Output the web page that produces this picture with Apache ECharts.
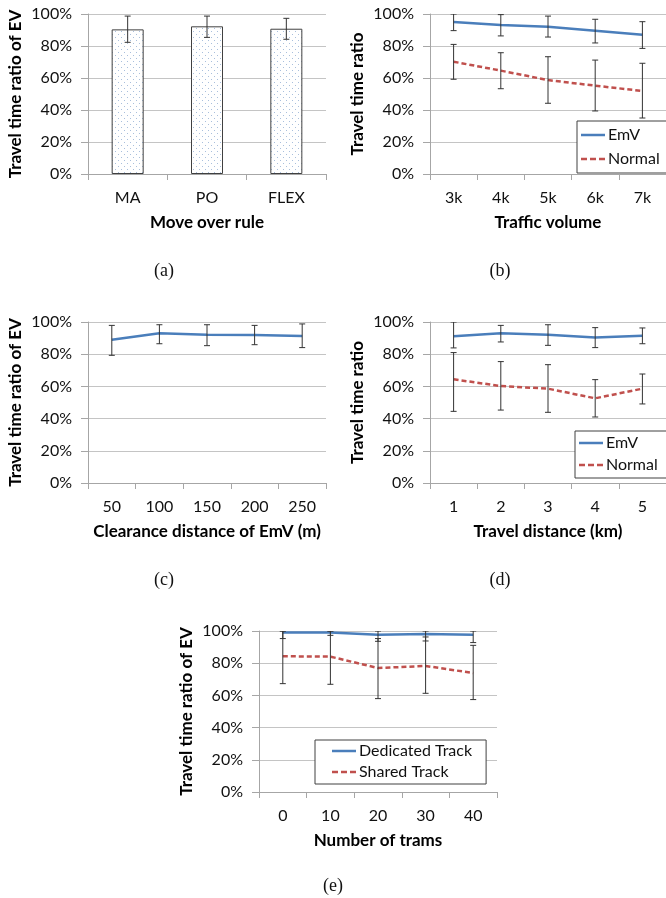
<!DOCTYPE html>
<html>
<head>
<meta charset="utf-8">
<script src="https://cdn.jsdelivr.net/npm/echarts@6/dist/echarts.min.js"></script>
<style>html,body{margin:0;padding:0;background:#fff}#c{width:666px;height:898px}</style>
</head>
<body>
<div id="c"></div>
<script>
// ---- Data (percent) ----
const catA = ['MA', 'PO', 'FLEX'];
const barA = [90.4, 92.3, 90.8];
const barALow = [82.3, 85.4, 84.2];
const barAHigh = [98.7, 98.7, 97.3];

const catB = ['3k', '4k', '5k', '6k', '7k'];
const emvB = [95.0, 93.1, 92.1, 89.6, 87.1];
const emvBLow = [89.6, 86.3, 85.6, 81.9, 78.5];
const emvBHigh = [100, 99.6, 98.7, 96.7, 95.2];
const normB = [70.2, 64.6, 58.7, 55.2, 51.9];
const normBLow = [59.2, 53.3, 44.2, 39.4, 35.0];
const normBHigh = [81.0, 75.8, 73.3, 71.2, 69.2];

const catC = ['50', '100', '150', '200', '250'];
const emvC = [89.0, 93.0, 92.1, 91.9, 91.3];
const emvCLow = [79.3, 86.5, 85.3, 85.9, 84.1];
const emvCHigh = [97.9, 98.3, 98.3, 97.9, 98.8];

const catD = ['1', '2', '3', '4', '5'];
const emvD = [91.1, 93.0, 92.1, 90.3, 91.5];
const emvDLow = [83.9, 87.6, 85.5, 84.1, 86.5];
const emvDHigh = [100, 97.9, 98.3, 96.5, 96.3];
const normD = [64.4, 60.2, 58.6, 52.6, 58.6];
const normDLow = [44.5, 45.3, 43.9, 41.0, 49.1];
const normDHigh = [81.0, 75.4, 73.5, 64.2, 67.7];

const catE = ['0', '10', '20', '30', '40'];
const dedE = [99.0, 99.0, 97.6, 98.1, 97.6];
const dedELow = [95.3, 97.3, 93.6, 93.8, 92.8];
const dedEHigh = [100, 100, 100, 100, 100];
const shrE = [84.3, 84.1, 77.0, 78.3, 73.9];
const shrELow = [67.3, 66.9, 58.0, 61.3, 57.4];
const shrEHigh = [100, 100, 95.3, 96.3, 91.1];

const yTicks = [0, 20, 40, 60, 80, 100];

// ---- Styles ----
const FONT = 'Lato';
const BLUE = '#4a7ebb';
const RED = '#c0504d';
const AX = '#a6a6a6';
const SOLID_ICON = 'path://M0,0h24v2.5h-24z';
const DASH_ICON = 'path://M0,0h6v2.5h-6zM9,0h6v2.5h-6zM18,0h6v2.5h-6z';

// dotted pattern for bars
const pc = document.createElement('canvas');
pc.width = 6; pc.height = 6;
const pctx = pc.getContext('2d');
pctx.fillStyle = '#ffffff'; pctx.fillRect(0, 0, 6, 6);
pctx.fillStyle = '#a9bfdc';
pctx.fillRect(1, 1, 1, 1); pctx.fillRect(4, 4, 1, 1);

const grids = [
  { left: 88, top: 14, width: 238, height: 160 },
  { left: 430, top: 14, width: 239, height: 160 },
  { left: 88, top: 322, width: 238, height: 161 },
  { left: 430, top: 322, width: 239, height: 161 },
  { left: 259, top: 631, width: 238, height: 161 }
];

function xAx(i, data, name) {
  return {
    gridIndex: i, type: 'category', data: data, boundaryGap: true,
    axisLine: { show: true, lineStyle: { color: AX, width: 1 } },
    axisTick: { show: true, length: 6, lineStyle: { color: AX } },
    axisLabel: { color: '#111', fontSize: 16, fontFamily: FONT, margin: 16 },
    splitLine: { show: false },
    name: name, nameLocation: 'middle', nameGap: 40,
    nameTextStyle: { color: '#000', fontSize: 17, fontWeight: 'bold', fontFamily: FONT }
  };
}
function yAx(i, name) {
  return {
    gridIndex: i, type: 'value', min: yTicks[0], max: yTicks[yTicks.length - 1], interval: yTicks[1] - yTicks[0],
    axisLine: { show: true, lineStyle: { color: AX, width: 1 } },
    axisTick: { show: true, length: 7, lineStyle: { color: AX } },
    axisLabel: { color: '#111', fontSize: 16, fontFamily: FONT, margin: 16, formatter: '{value}%' },
    splitLine: { show: true, lineStyle: { color: '#c4c4c4', width: 1 } },
    name: name, nameLocation: 'middle', nameGap: 64, nameRotate: 90,
    nameTextStyle: { color: '#000', fontSize: 17, fontWeight: 'bold', fontFamily: FONT }
  };
}

function errSeries(i, low, high) {
  return {
    type: 'custom', xAxisIndex: i, yAxisIndex: i, z: 5, clip: true, silent: true,
    data: low.map((l, k) => [k, l, high[k]]),
    renderItem: function (params, api) {
      const x = api.value(0);
      const pLo = api.coord([x, api.value(1)]);
      const pHi = api.coord([x, api.value(2)]);
      const w = 3;
      const st = { stroke: '#333', lineWidth: 1 };
      return {
        type: 'group', children: [
          { type: 'line', shape: { x1: pLo[0], y1: pLo[1], x2: pHi[0], y2: pHi[1] }, style: st },
          { type: 'line', shape: { x1: pLo[0] - w, y1: pLo[1], x2: pLo[0] + w, y2: pLo[1] }, style: st },
          { type: 'line', shape: { x1: pHi[0] - w, y1: pHi[1], x2: pHi[0] + w, y2: pHi[1] }, style: st }
        ]
      };
    }
  };
}

function lineSeries(i, name, data, color, dashed) {
  return {
    type: 'line', name: name, xAxisIndex: i, yAxisIndex: i, data: data,
    symbol: 'none', showSymbol: false, z: 3, silent: true,
    lineStyle: { color: color, width: 2.5, type: dashed ? [5, 3] : 'solid' },
    itemStyle: { color: color }
  };
}

function legendAt(left, top, items, pad, gap) {
  return {
    left: left, top: top, orient: 'vertical',
    data: items.map(it => ({ name: it[0], icon: it[1] ? DASH_ICON : SOLID_ICON })),
    backgroundColor: '#fff', borderColor: '#404040', borderWidth: 1,
    padding: pad, itemGap: gap, itemWidth: 24, itemHeight: 14,
    textStyle: { color: '#111', fontSize: 16, fontFamily: FONT, padding: [0, 0, 0, -2] },
    selectedMode: false
  };
}

function label(text, x, y) {
  return {
    text: text, left: x, top: y, textAlign: 'center', padding: 0,
    textStyle: { fontFamily: 'Liberation Serif', fontSize: 18, fontWeight: 'normal', color: '#111' }
  };
}

const option = {
  animation: false,
  backgroundColor: '#fff',
  title: [
    label('(a)', 164, 262),
    label('(b)', 500, 262),
    label('(c)', 164, 571),
    label('(d)', 500, 571),
    label('(e)', 333, 877)
  ],
  legend: [
    legendAt(577, 121, [['EmV', false], ['Normal', true]], [6, 12, 6, 4], 8),
    legendAt(575, 431, [['EmV', false], ['Normal', true]], [4, 12, 5, 4], 6),
    legendAt(315, 740, [['Dedicated Track', false], ['Shared Track', true]], [3, 14, 4, 17], 5)
  ],
  grid: grids,
  xAxis: [
    xAx(0, catA, 'Move over rule'),
    xAx(1, catB, 'Traffic volume'),
    xAx(2, catC, 'Clearance distance of EmV (m)'),
    xAx(3, catD, 'Travel distance (km)'),
    xAx(4, catE, 'Number of trams')
  ],
  yAxis: [
    yAx(0, 'Travel time ratio of EV'),
    yAx(1, 'Travel time ratio'),
    yAx(2, 'Travel time ratio of EV'),
    yAx(3, 'Travel time ratio'),
    yAx(4, 'Travel time ratio of EV')
  ],
  series: [
    {
      type: 'bar', xAxisIndex: 0, yAxisIndex: 0, data: barA, barWidth: 32, silent: true,
      itemStyle: { color: { image: pc, repeat: 'repeat' }, borderColor: '#404040', borderWidth: 1 }
    },
    errSeries(0, barALow, barAHigh),

    lineSeries(1, 'EmV', emvB, BLUE, false),
    lineSeries(1, 'Normal', normB, RED, true),
    errSeries(1, emvBLow, emvBHigh),
    errSeries(1, normBLow, normBHigh),

    lineSeries(2, 'EmV C', emvC, BLUE, false),
    errSeries(2, emvCLow, emvCHigh),

    lineSeries(3, 'EmV', emvD, BLUE, false),
    lineSeries(3, 'Normal', normD, RED, true),
    errSeries(3, emvDLow, emvDHigh),
    errSeries(3, normDLow, normDHigh),

    lineSeries(4, 'Dedicated Track', dedE, BLUE, false),
    lineSeries(4, 'Shared Track', shrE, RED, true),
    errSeries(4, dedELow, dedEHigh),
    errSeries(4, shrELow, shrEHigh)
  ]
};

const chart = echarts.init(document.getElementById('c'), null, { renderer: 'canvas' });
chart.setOption(option);
</script>
</body>
</html>
